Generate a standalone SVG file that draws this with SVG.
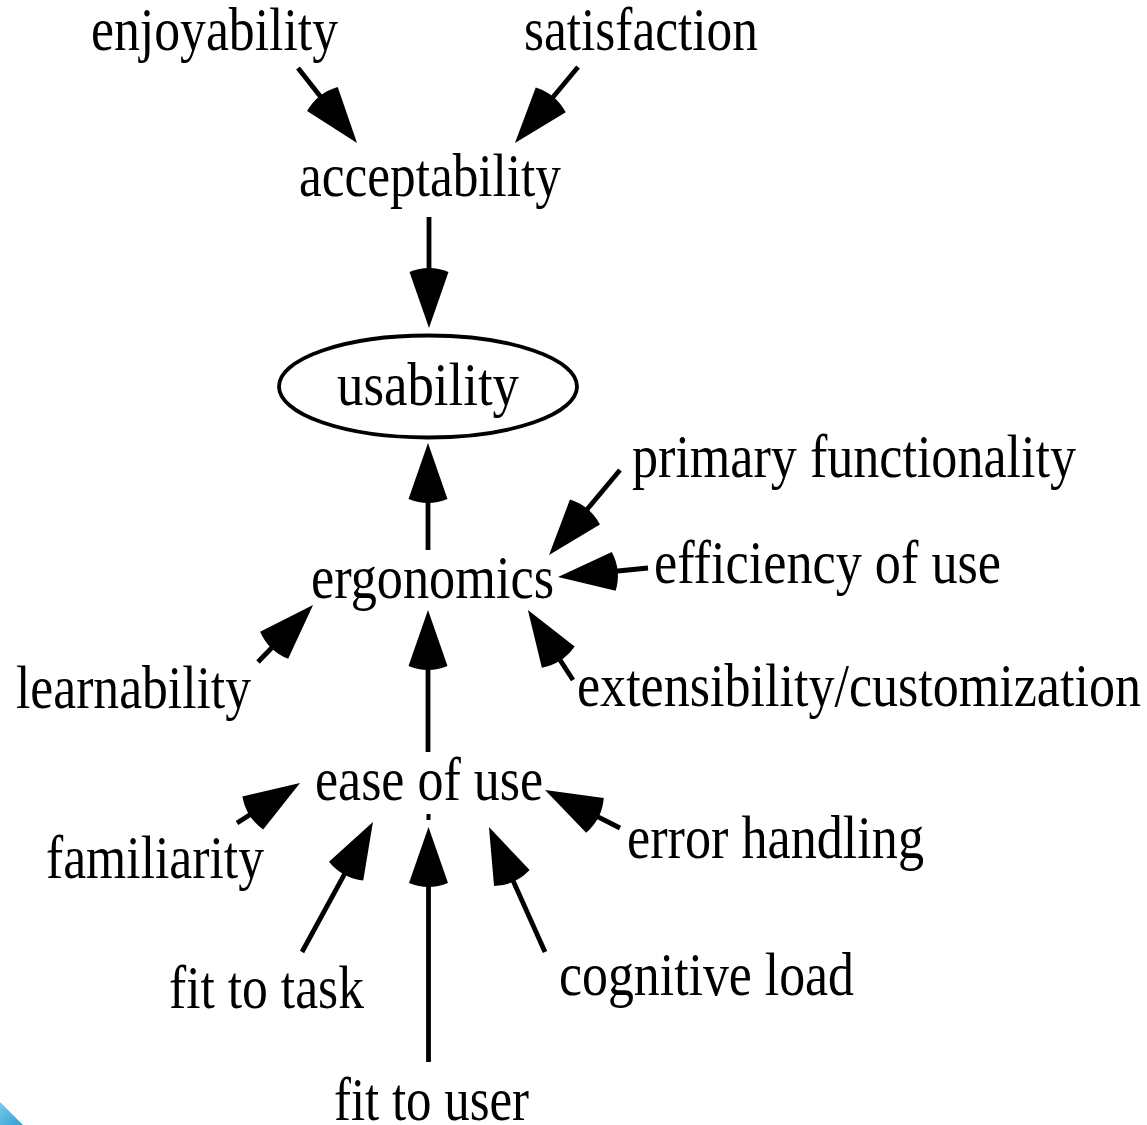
<svg xmlns="http://www.w3.org/2000/svg" width="1147" height="1125" viewBox="0 0 1147 1125">
<style>
  text { font-family: "Liberation Serif", "Times New Roman", serif; font-size: 52px; fill: #000; }
  .edge { stroke: #000; stroke-width: 4.8; fill: none; marker-end: url(#ah); }
</style>
<defs>
  <marker id="ah" markerUnits="userSpaceOnUse" orient="auto" refX="0" refY="0" markerWidth="80" markerHeight="60" overflow="visible">
    <path d="M-6,-19.5 Q-14,0 -6,19.5 L50,0 Z" fill="#000"/>
  </marker>
  <linearGradient id="blue" x1="0" y1="0" x2="1" y2="1">
    <stop offset="0" stop-color="#7cc8ec"/>
    <stop offset="1" stop-color="#2f9fd6"/>
  </linearGradient>
</defs>
<rect width="1147" height="1125" fill="#fff"/>
<polygon points="0,1102 23,1125 0,1125" fill="url(#blue)"/>

<g id="connectors">
  <line class="edge" x1="298" y1="68" x2="326.1" y2="103.7"/>
  <line class="edge" x1="578" y1="67" x2="546.9" y2="104.5"/>
  <line class="edge" x1="429" y1="217" x2="429" y2="278"/>
  <line class="edge" x1="428" y1="550" x2="428" y2="493"/>
  <line class="edge" x1="620" y1="470" x2="581.1" y2="516.6"/>
  <line class="edge" x1="648" y1="568" x2="607.75" y2="572"/>
  <line class="edge" x1="573" y1="680" x2="555" y2="652.1"/>
  <line class="edge" x1="258" y1="662" x2="278.3" y2="641"/>
  <line class="edge" x1="428" y1="752" x2="428" y2="660"/>
  <line class="edge" x1="237" y1="823" x2="257.8" y2="809.8"/>
  <line class="edge" x1="302" y1="952" x2="349" y2="865.9"/>
  <line class="edge" x1="428.5" y1="1062" x2="428.5" y2="877"/>
  <line class="edge" x1="545" y1="952" x2="509.4" y2="872.6"/>
  <line class="edge" x1="620" y1="828" x2="589.6" y2="812.6"/>
  <rect x="426.5" y="814" width="4" height="6" fill="#000"/>
</g>

<g id="node-enjoyability"><text transform="translate(91,50) scale(1,1.17)" textLength="247" lengthAdjust="spacingAndGlyphs">enjoyability</text></g>
<g id="node-satisfaction"><text transform="translate(524,50) scale(1,1.17)" textLength="234" lengthAdjust="spacingAndGlyphs">satisfaction</text></g>
<g id="node-acceptability"><text transform="translate(299,196) scale(1,1.17)" textLength="262" lengthAdjust="spacingAndGlyphs">acceptability</text></g>
<g id="node-usability">
  <ellipse cx="428" cy="386.5" rx="149" ry="51" fill="none" stroke="#000" stroke-width="3.8"/>
  <text transform="translate(337,405) scale(1,1.17)" textLength="182" lengthAdjust="spacingAndGlyphs">usability</text>
</g>
<g id="node-ergonomics"><text transform="translate(311,598) scale(1,1.17)" textLength="243" lengthAdjust="spacingAndGlyphs">ergonomics</text></g>
<g id="node-primary-functionality"><text transform="translate(632,477) scale(1,1.17)" textLength="444" lengthAdjust="spacingAndGlyphs">primary functionality</text></g>
<g id="node-efficiency-of-use"><text transform="translate(654,583) scale(1,1.17)" textLength="347" lengthAdjust="spacingAndGlyphs">efficiency of use</text></g>
<g id="node-extensibility"><text transform="translate(577,706) scale(1,1.17)" textLength="564" lengthAdjust="spacingAndGlyphs">extensibility/customization</text></g>
<g id="node-learnability"><text transform="translate(16,708) scale(1,1.17)" textLength="235" lengthAdjust="spacingAndGlyphs">learnability</text></g>
<g id="node-ease-of-use"><text transform="translate(315,800) scale(1,1.17)" textLength="228" lengthAdjust="spacingAndGlyphs">ease of use</text></g>
<g id="node-familiarity"><text transform="translate(46,878) scale(1,1.17)" textLength="218" lengthAdjust="spacingAndGlyphs">familiarity</text></g>
<g id="node-error-handling"><text transform="translate(627,858) scale(1,1.17)" textLength="297" lengthAdjust="spacingAndGlyphs">error handling</text></g>
<g id="node-cognitive-load"><text transform="translate(559,995) scale(1,1.17)" textLength="295" lengthAdjust="spacingAndGlyphs">cognitive load</text></g>
<g id="node-fit-to-task"><text transform="translate(169,1008) scale(1,1.17)" textLength="195" lengthAdjust="spacingAndGlyphs">fit to task</text></g>
<g id="node-fit-to-user"><text transform="translate(334,1120) scale(1,1.17)" textLength="195" lengthAdjust="spacingAndGlyphs">fit to user</text></g>
</svg>
